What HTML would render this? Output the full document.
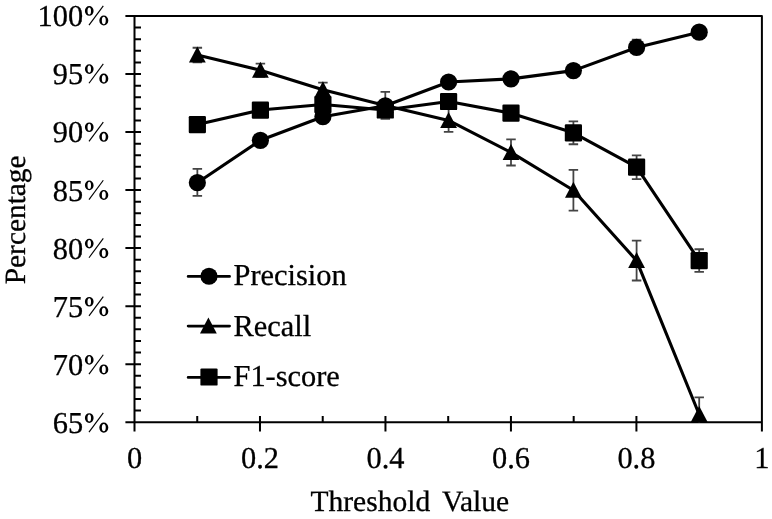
<!DOCTYPE html>
<html><head><meta charset="utf-8"><style>
html,body{margin:0;padding:0;background:#fff;}
body{width:772px;height:519px;overflow:hidden;}
svg{display:block;filter:blur(0.3px);}
text{font-family:"Liberation Serif",serif;font-size:30.4px;fill:#000;text-rendering:geometricPrecision;stroke:#000;stroke-width:0.3px;}
.t{font-size:29.5px;}
</style></head><body>
<svg width="772" height="519" viewBox="0 0 772 519" >
<defs><clipPath id="pa"><rect x="134.5" y="16.0" width="627.4" height="406.2"/></clipPath></defs>
<path d="M134.5,16.0V422.2M125.4,422.2H761.9M125.4,16.0H761.9V431.6M125.4,364.17H141M125.4,306.14H141M125.4,248.11H141M125.4,190.09H141M125.4,132.06H141M125.4,74.03H141M134.5,410.59H141M134.5,398.99H141M134.5,387.38H141M134.5,375.78H141M134.5,352.57H141M134.5,340.96H141M134.5,329.35H141M134.5,317.75H141M134.5,294.54H141M134.5,282.93H141M134.5,271.33H141M134.5,259.72H141M134.5,236.51H141M134.5,224.90H141M134.5,213.30H141M134.5,201.69H141M134.5,178.48H141M134.5,166.87H141M134.5,155.27H141M134.5,143.66H141M134.5,120.45H141M134.5,108.85H141M134.5,97.24H141M134.5,85.63H141M134.5,62.42H141M134.5,50.82H141M134.5,39.21H141M134.5,27.61H141M134.50,416V431.6M259.98,416V431.6M385.46,416V431.6M510.94,416V431.6M636.42,416V431.6M197.24,416V422.2M322.72,416V422.2M448.20,416V422.2M573.68,416V422.2M699.16,416V422.2" stroke="#000" stroke-width="2.0" stroke-linejoin="round" fill="none"/>
<g>
<text x="83.10" y="433.20" text-anchor="end">65</text><path d="M84.90,418.05a4.35,4.85 0 1,0 8.70,0a4.35,4.85 0 1,0 -8.70,0ZM87.50,418.05a1.75,3.55 0 1,0 3.50,0a1.75,3.55 0 1,0 -3.50,0ZM99.30,427.60a4.5,5.05 0 1,0 9.00,0a4.5,5.05 0 1,0 -9.00,0ZM101.85,427.60a1.95,3.65 0 1,0 3.90,0a1.95,3.65 0 1,0 -3.90,0Z" fill="#000" fill-rule="evenodd"/><path d="M89.00,432.20L103.30,412.90" stroke="#000" stroke-width="1.15"/><text x="83.10" y="375.04" text-anchor="end">70</text><path d="M84.90,359.89a4.35,4.85 0 1,0 8.70,0a4.35,4.85 0 1,0 -8.70,0ZM87.50,359.89a1.75,3.55 0 1,0 3.50,0a1.75,3.55 0 1,0 -3.50,0ZM99.30,369.44a4.5,5.05 0 1,0 9.00,0a4.5,5.05 0 1,0 -9.00,0ZM101.85,369.44a1.95,3.65 0 1,0 3.90,0a1.95,3.65 0 1,0 -3.90,0Z" fill="#000" fill-rule="evenodd"/><path d="M89.00,374.04L103.30,354.74" stroke="#000" stroke-width="1.15"/><text x="83.10" y="316.89" text-anchor="end">75</text><path d="M84.90,301.74a4.35,4.85 0 1,0 8.70,0a4.35,4.85 0 1,0 -8.70,0ZM87.50,301.74a1.75,3.55 0 1,0 3.50,0a1.75,3.55 0 1,0 -3.50,0ZM99.30,311.29a4.5,5.05 0 1,0 9.00,0a4.5,5.05 0 1,0 -9.00,0ZM101.85,311.29a1.95,3.65 0 1,0 3.90,0a1.95,3.65 0 1,0 -3.90,0Z" fill="#000" fill-rule="evenodd"/><path d="M89.00,315.89L103.30,296.59" stroke="#000" stroke-width="1.15"/><text x="83.10" y="258.73" text-anchor="end">80</text><path d="M84.90,243.58a4.35,4.85 0 1,0 8.70,0a4.35,4.85 0 1,0 -8.70,0ZM87.50,243.58a1.75,3.55 0 1,0 3.50,0a1.75,3.55 0 1,0 -3.50,0ZM99.30,253.13a4.5,5.05 0 1,0 9.00,0a4.5,5.05 0 1,0 -9.00,0ZM101.85,253.13a1.95,3.65 0 1,0 3.90,0a1.95,3.65 0 1,0 -3.90,0Z" fill="#000" fill-rule="evenodd"/><path d="M89.00,257.73L103.30,238.43" stroke="#000" stroke-width="1.15"/><text x="83.10" y="200.57" text-anchor="end">85</text><path d="M84.90,185.42a4.35,4.85 0 1,0 8.70,0a4.35,4.85 0 1,0 -8.70,0ZM87.50,185.42a1.75,3.55 0 1,0 3.50,0a1.75,3.55 0 1,0 -3.50,0ZM99.30,194.97a4.5,5.05 0 1,0 9.00,0a4.5,5.05 0 1,0 -9.00,0ZM101.85,194.97a1.95,3.65 0 1,0 3.90,0a1.95,3.65 0 1,0 -3.90,0Z" fill="#000" fill-rule="evenodd"/><path d="M89.00,199.57L103.30,180.27" stroke="#000" stroke-width="1.15"/><text x="83.10" y="142.41" text-anchor="end">90</text><path d="M84.90,127.26a4.35,4.85 0 1,0 8.70,0a4.35,4.85 0 1,0 -8.70,0ZM87.50,127.26a1.75,3.55 0 1,0 3.50,0a1.75,3.55 0 1,0 -3.50,0ZM99.30,136.81a4.5,5.05 0 1,0 9.00,0a4.5,5.05 0 1,0 -9.00,0ZM101.85,136.81a1.95,3.65 0 1,0 3.90,0a1.95,3.65 0 1,0 -3.90,0Z" fill="#000" fill-rule="evenodd"/><path d="M89.00,141.41L103.30,122.11" stroke="#000" stroke-width="1.15"/><text x="83.10" y="84.26" text-anchor="end">95</text><path d="M84.90,69.11a4.35,4.85 0 1,0 8.70,0a4.35,4.85 0 1,0 -8.70,0ZM87.50,69.11a1.75,3.55 0 1,0 3.50,0a1.75,3.55 0 1,0 -3.50,0ZM99.30,78.66a4.5,5.05 0 1,0 9.00,0a4.5,5.05 0 1,0 -9.00,0ZM101.85,78.66a1.95,3.65 0 1,0 3.90,0a1.95,3.65 0 1,0 -3.90,0Z" fill="#000" fill-rule="evenodd"/><path d="M89.00,83.26L103.30,63.96" stroke="#000" stroke-width="1.15"/><text x="83.10" y="26.10" text-anchor="end">100</text><path d="M84.90,10.95a4.35,4.85 0 1,0 8.70,0a4.35,4.85 0 1,0 -8.70,0ZM87.50,10.95a1.75,3.55 0 1,0 3.50,0a1.75,3.55 0 1,0 -3.50,0ZM99.30,20.50a4.5,5.05 0 1,0 9.00,0a4.5,5.05 0 1,0 -9.00,0ZM101.85,20.50a1.95,3.65 0 1,0 3.90,0a1.95,3.65 0 1,0 -3.90,0Z" fill="#000" fill-rule="evenodd"/><path d="M89.00,25.10L103.30,5.80" stroke="#000" stroke-width="1.15"/>
<text x="134.50" y="468" text-anchor="middle">0</text><text x="259.98" y="468" text-anchor="middle">0.2</text><text x="385.46" y="468" text-anchor="middle">0.4</text><text x="510.94" y="468" text-anchor="middle">0.6</text><text x="636.42" y="468" text-anchor="middle">0.8</text><text x="761.90" y="468" text-anchor="middle">1</text>
<text class="t" x="409.8" y="510.8" text-anchor="middle" style="word-spacing:4.9px">Threshold Value</text>
<text class="t" transform="translate(24.9,284.3) rotate(-90)" x="0" y="0" style="font-size:29.4px">Percentage</text>
</g>
<g stroke="#444" stroke-width="1.8" fill="none" clip-path="url(#pa)">
<path d="M197.35,168.90V195.80M192.60,168.90h9.5M192.60,195.80h9.5"/>
<path d="M260.40,135.30V145.30M255.65,135.30h9.5M255.65,145.30h9.5"/>
<path d="M322.90,111.70V121.70M318.15,111.70h9.5M318.15,121.70h9.5"/>
<path d="M385.30,100.80V110.80M380.55,100.80h9.5M380.55,110.80h9.5"/>
<path d="M448.60,77.00V87.00M443.85,77.00h9.5M443.85,87.00h9.5"/>
<path d="M511.00,73.85V83.85M506.25,73.85h9.5M506.25,83.85h9.5"/>
<path d="M573.40,65.60V75.60M568.65,65.60h9.5M568.65,75.60h9.5"/>
<path d="M636.60,39.55V52.45M631.85,39.55h9.5M631.85,52.45h9.5"/>
<path d="M699.20,27.20V37.20M694.45,27.20h9.5M694.45,37.20h9.5"/>
<path d="M197.35,47.75V62.35M192.60,47.75h9.5M192.60,62.35h9.5"/>
<path d="M260.40,63.60V76.80M255.65,63.60h9.5M255.65,76.80h9.5"/>
<path d="M322.90,82.60V97.00M318.15,82.60h9.5M318.15,97.00h9.5"/>
<path d="M385.30,91.90V118.90M380.55,91.90h9.5M380.55,118.90h9.5"/>
<path d="M448.60,109.00V131.80M443.85,109.00h9.5M443.85,131.80h9.5"/>
<path d="M511.00,139.30V165.50M506.25,139.30h9.5M506.25,165.50h9.5"/>
<path d="M573.40,169.90V210.70M568.65,169.90h9.5M568.65,210.70h9.5"/>
<path d="M636.60,240.70V280.50M631.85,240.70h9.5M631.85,280.50h9.5"/>
<path d="M699.20,397.40V431.60M694.45,397.40h9.5M694.45,431.60h9.5"/>
<path d="M197.35,119.60V129.60M192.60,119.60h9.5M192.60,129.60h9.5"/>
<path d="M260.40,105.05V115.05M255.65,105.05h9.5M255.65,115.05h9.5"/>
<path d="M322.90,99.50V109.50M318.15,99.50h9.5M318.15,109.50h9.5"/>
<path d="M385.30,105.00V115.00M380.55,105.00h9.5M380.55,115.00h9.5"/>
<path d="M448.60,96.50V106.50M443.85,96.50h9.5M443.85,106.50h9.5"/>
<path d="M511.00,108.20V118.20M506.25,108.20h9.5M506.25,118.20h9.5"/>
<path d="M573.40,121.35V144.25M568.65,121.35h9.5M568.65,144.25h9.5"/>
<path d="M636.60,155.30V179.10M631.85,155.30h9.5M631.85,179.10h9.5"/>
<path d="M699.20,249.25V271.95M694.45,249.25h9.5M694.45,271.95h9.5"/>
</g>
<g fill="none" stroke="#000" stroke-width="3.1" stroke-linejoin="round">
<polyline points="197.35,182.70 260.40,140.30 322.90,116.70 385.30,105.80 448.60,82.00 511.00,78.85 573.40,70.60 636.60,47.45 699.20,32.20"/>
<polyline points="197.35,55.05 260.40,70.20 322.90,89.80 385.30,105.40 448.60,120.40 511.00,152.40 573.40,190.30 636.60,260.60 699.20,414.50"/>
<polyline points="197.35,124.60 260.40,110.05 322.90,104.50 385.30,110.00 448.60,101.50 511.00,113.20 573.40,132.80 636.60,167.20 699.20,260.60"/>
</g>
<g fill="#000">
<circle cx="197.35" cy="182.70" r="8.6"/>
<circle cx="260.40" cy="140.30" r="8.6"/>
<circle cx="322.90" cy="116.70" r="8.6"/>
<circle cx="385.30" cy="105.80" r="8.6"/>
<circle cx="448.60" cy="82.00" r="8.6"/>
<circle cx="511.00" cy="78.85" r="8.6"/>
<circle cx="573.40" cy="70.60" r="8.6"/>
<circle cx="636.60" cy="47.45" r="8.6"/>
<circle cx="699.20" cy="32.20" r="8.6"/>
<path d="M197.35,46.55L205.75,62.55L188.95,62.55Z"/>
<path d="M260.40,61.70L268.80,77.70L252.00,77.70Z"/>
<path d="M322.90,81.30L331.30,97.30L314.50,97.30Z"/>
<path d="M385.30,96.90L393.70,112.90L376.90,112.90Z"/>
<path d="M448.60,111.90L457.00,127.90L440.20,127.90Z"/>
<path d="M511.00,143.90L519.40,159.90L502.60,159.90Z"/>
<path d="M573.40,181.80L581.80,197.80L565.00,197.80Z"/>
<path d="M636.60,252.10L645.00,268.10L628.20,268.10Z"/>
<path d="M699.20,406.00L707.60,422.00L690.80,422.00Z"/>
<rect x="188.75" y="116.00" width="17.2" height="17.2" rx="1.2"/>
<rect x="251.80" y="101.45" width="17.2" height="17.2" rx="1.2"/>
<rect x="314.30" y="95.90" width="17.2" height="17.2" rx="1.2"/>
<rect x="376.70" y="101.40" width="17.2" height="17.2" rx="1.2"/>
<rect x="440.00" y="92.90" width="17.2" height="17.2" rx="1.2"/>
<rect x="502.40" y="104.60" width="17.2" height="17.2" rx="1.2"/>
<rect x="564.80" y="124.20" width="17.2" height="17.2" rx="1.2"/>
<rect x="628.00" y="158.60" width="17.2" height="17.2" rx="1.2"/>
<rect x="690.60" y="252.00" width="17.2" height="17.2" rx="1.2"/>
</g>
<!-- legend -->
<g stroke="#000" stroke-width="2.9" stroke-linecap="round" fill="none">
<path d="M188.2,276.4H229.5M188.2,326.1H229.5M188.2,377.4H229.5"/>
</g>
<g fill="#000">
<circle cx="209" cy="276.25" r="8.6"/>
<path d="M208.40,317.40L216.80,333.40L200.00,333.40Z"/>
<rect x="200.40" y="368.40" width="17.2" height="17.2" rx="1.2"/>
<text x="233.5" y="285">Precision</text>
<text x="233.5" y="335.9">Recall</text>
<text x="233.5" y="385.9">F1-score</text>
</g>
</svg>
</body></html>
